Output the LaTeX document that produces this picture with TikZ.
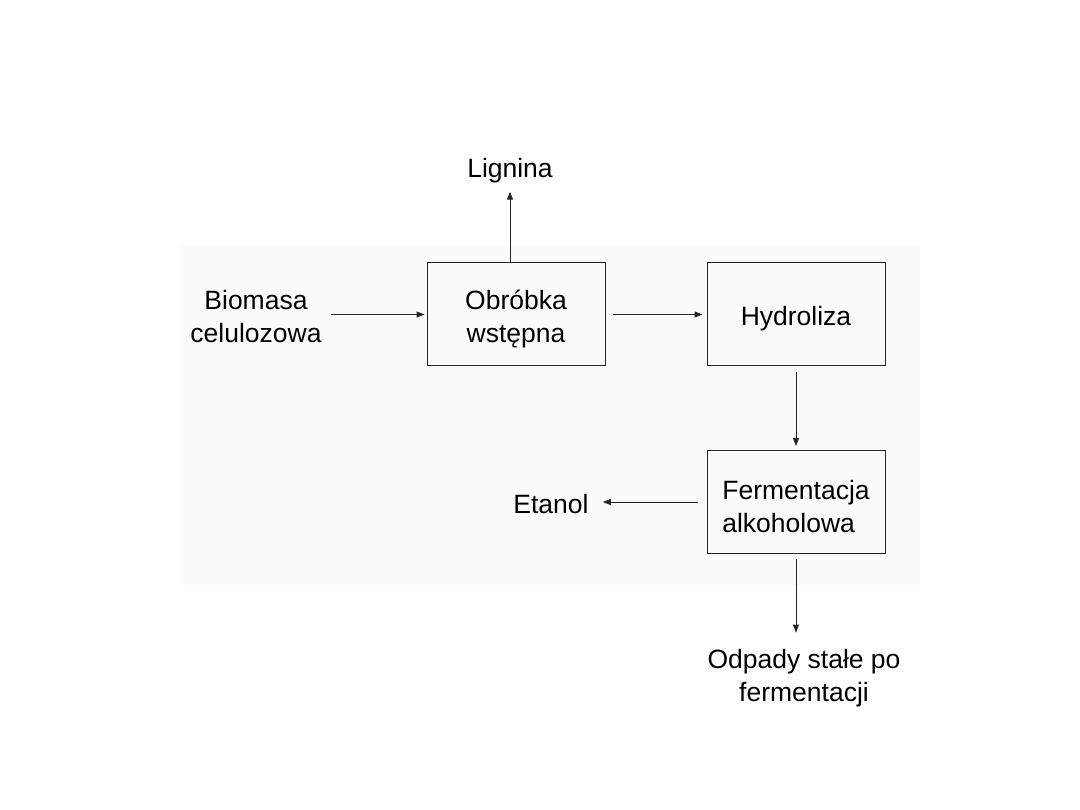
\documentclass[tikz,border=0pt]{standalone}
\usepackage{fontspec}
\setmainfont{Liberation Sans}
\usetikzlibrary{arrows.meta}
\newcommand\diagfont{\fontsize{26.5}{33}\selectfont}
\newcommand\topstrut{\rule{0pt}{28pt}}
\begin{document}
\begin{tikzpicture}[x=1pt,y=-1pt,
  box/.style={draw=black!85, line width=1pt, minimum width=178pt, minimum height=103pt, inner sep=0pt, font=\diagfont},
  lbl/.style={inner sep=0pt, font=\diagfont, align=center},
  arr/.style={draw=black!85, line width=1pt, -{Triangle[length=8pt,width=6pt]}}]
\useasboundingbox (0,0) rectangle (1080,810);
\fill[black!1.5] (180,245) rectangle (920,585);
% boxes
\node[box, align=center] (obr) at (516,314.5) {\topstrut Obróbka\\wstępna};
\node[box, align=center] (hyd) at (796,314.5) {\topstrut Hydroliza};
\node[box, align=left] (fer) at (796,502) {\topstrut Fermentacja\\alkoholowa};
% labels
\node[lbl, anchor=base] (lig) at (510,178) {Lignina};
\node[lbl, anchor=base] (bio) at (256,343) {Biomasa\\celulozowa};
\node[lbl, anchor=base] (eta) at (551,513) {Etanol};
\node[lbl, anchor=base] (odp) at (804,701) {Odpady stałe po\\fermentacji};
% connectors
\draw[arr, shorten >=8pt] (lig.south |- obr.north) -- (lig.south);
\draw[arr, shorten <=9pt, shorten >=2pt] (bio.east |- obr.west) -- (obr.west);
\draw[arr, shorten <=7pt, shorten >=4pt] (obr.east) -- (hyd.west);
\draw[arr, shorten <=6pt, shorten >=4pt] (hyd.south) -- (fer.north);
\draw[arr, shorten <=9pt, shorten >=14pt] (fer.west) -- (eta.east |- fer.west);
\draw[arr, shorten <=5pt, shorten >=16pt] (fer.south) -- (fer.south |- odp.north);
\end{tikzpicture}
\end{document}
